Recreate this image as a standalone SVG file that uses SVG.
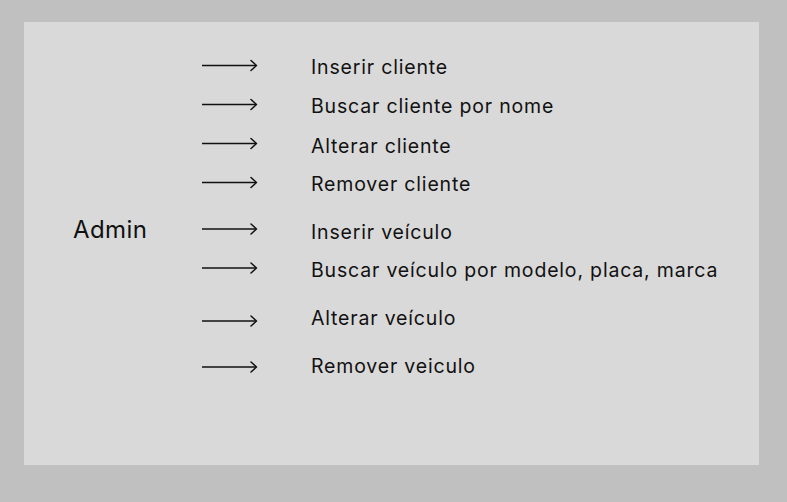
<svg xmlns="http://www.w3.org/2000/svg" width="787" height="502" viewBox="0 0 787 502">
<style>
.t{font-family:Inter,"Noto Sans","Liberation Sans",sans-serif;font-size:19.5px;letter-spacing:0.82px;fill:#111}
.a{stroke:#111;stroke-width:1.5;fill:none}
.h{stroke:#111;stroke-width:1.5;fill:none;stroke-linecap:round;stroke-linejoin:round}
</style>
<rect x="0" y="0" width="787" height="502" fill="#c0c0c0"/>
<rect x="24" y="22" width="735" height="443" fill="#d9d9d9"/>
<g id="admin"><text class="t" x="73" y="238" style="font-size:24px;letter-spacing:0.4px">Admin</text></g>
<g id="connectors">
<g transform="translate(0,65.5)"><path class="a" d="M202 0H256"/><path class="h" d="M251 -5L256.5 0L251 5"/></g>
<g transform="translate(0,104.5)"><path class="a" d="M202 0H256"/><path class="h" d="M251 -5L256.5 0L251 5"/></g>
<g transform="translate(0,143.5)"><path class="a" d="M202 0H256"/><path class="h" d="M251 -5L256.5 0L251 5"/></g>
<g transform="translate(0,182.5)"><path class="a" d="M202 0H256"/><path class="h" d="M251 -5L256.5 0L251 5"/></g>
<g transform="translate(0,229)"><path class="a" d="M202 0H256"/><path class="h" d="M251 -5L256.5 0L251 5"/></g>
<g transform="translate(0,268)"><path class="a" d="M202 0H256"/><path class="h" d="M251 -5L256.5 0L251 5"/></g>
<g transform="translate(0,321)"><path class="a" d="M202 0H256"/><path class="h" d="M251 -5L256.5 0L251 5"/></g>
<g transform="translate(0,367)"><path class="a" d="M202 0H256"/><path class="h" d="M251 -5L256.5 0L251 5"/></g>
</g>
<g id="inserir-cliente"><text class="t" x="311" y="74">Inserir cliente</text></g>
<g id="buscar-cliente"><text class="t" x="311" y="113">Buscar cliente por nome</text></g>
<g id="alterar-cliente"><text class="t" x="311" y="152.5">Alterar cliente</text></g>
<g id="remover-cliente"><text class="t" x="311" y="190.5">Remover cliente</text></g>
<g id="inserir-veiculo"><text class="t" x="311" y="238.5">Inserir veículo</text></g>
<g id="buscar-veiculo"><text class="t" x="311" y="277.3">Buscar veículo por modelo, placa, marca</text></g>
<g id="alterar-veiculo"><text class="t" x="311" y="325">Alterar veículo</text></g>
<g id="remover-veiculo"><text class="t" x="311" y="373">Remover veiculo</text></g>
</svg>
